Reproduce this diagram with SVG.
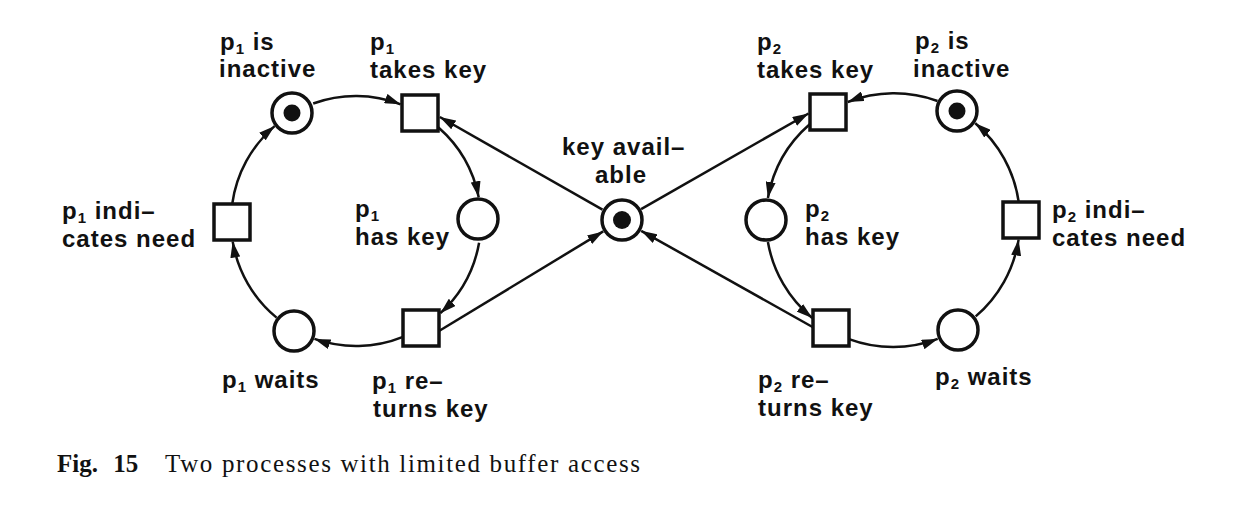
<svg xmlns="http://www.w3.org/2000/svg" width="1235" height="515" viewBox="0 0 1235 515">
<style>
.place{fill:#fff;stroke:#111;stroke-width:3.5}
.trans{fill:#fff;stroke:#111;stroke-width:3.5}
.token{fill:#111}
.arc{fill:none;stroke:#111;stroke-width:2.5;marker-end:url(#arr)}
.lbl{font-family:"Liberation Sans",Arial,sans-serif;font-weight:bold;font-size:24px;letter-spacing:1px;fill:#111}
.sub{font-size:15px}
.cap{font-family:"Liberation Serif","Times New Roman",serif;font-size:25px;fill:#111}
</style>
<defs>
<marker id="arr" markerUnits="userSpaceOnUse" markerWidth="17" markerHeight="10" refX="16" refY="5" orient="auto">
<path d="M0,0 L16,5 L0,10 z" fill="#111"/>
</marker>
</defs>
<rect width="1235" height="515" fill="#fff"/>
<g id="connectors">
<path class="arc" d="M313.2,103.5 A125,125 0 0 1 400.6,104.3"/>
<path class="arc" d="M438.5,127.5 A125,125 0 0 1 478.7,197.2"/>
<path class="arc" d="M479.1,242.7 A125,125 0 0 1 440.4,313.2"/>
<path class="arc" d="M403,336.8 A125,125 0 0 1 314.5,338.9"/>
<path class="arc" d="M276.6,317.6 A125,125 0 0 1 232.7,241.6"/>
<path class="arc" d="M232.2,204 A125,125 0 0 1 274.6,126.1"/>
<path class="arc" d="M937.5,101 A127,127 0 0 0 847.8,102"/>
<path class="arc" d="M809.7,124.2 A127,127 0 0 0 767.9,198"/>
<path class="arc" d="M767.9,242 A127,127 0 0 0 812.2,318"/>
<path class="arc" d="M849,339.1 A127,127 0 0 0 937.7,338.9"/>
<path class="arc" d="M975.7,316.4 A127,127 0 0 0 1018.6,239.6"/>
<path class="arc" d="M1018.7,202 A127,127 0 0 0 975.3,123.3"/>
<path class="arc" d="M602.5,209.7 L439.8,117"/>
<path class="arc" d="M439,331 L603.2,231.4"/>
<path class="arc" d="M641.1,209.1 L808.5,113.5"/>
<path class="arc" d="M812.5,327 L641.2,230.8"/>
</g>
<g id="p1-inactive"><circle class="place" cx="292" cy="113" r="20"/><circle class="token" cx="292" cy="113" r="8.5"/>
<text class="lbl" x="220" y="50">p<tspan class="sub" dy="4">1</tspan><tspan dy="-4"> is</tspan></text><text class="lbl" x="219" y="77">inactive</text></g>
<g id="p1-takes-key"><rect class="trans" x="402" y="95" width="36" height="36"/>
<text class="lbl" x="370" y="50">p<tspan class="sub" dy="4">1</tspan></text><text class="lbl" x="370" y="78">takes key</text></g>
<g id="p1-has-key"><circle class="place" cx="478" cy="219" r="20"/>
<text class="lbl" x="355" y="217">p<tspan class="sub" dy="4">1</tspan></text><text class="lbl" x="355" y="245">has key</text></g>
<g id="p1-returns-key"><rect class="trans" x="403" y="310" width="36" height="36"/>
<text class="lbl" x="372" y="389">p<tspan class="sub" dy="4">1</tspan><tspan dy="-4"> re–</tspan></text><text class="lbl" x="373" y="417">turns key</text></g>
<g id="p1-waits"><circle class="place" cx="294" cy="331" r="20"/>
<text class="lbl" x="222" y="388">p<tspan class="sub" dy="4">1</tspan><tspan dy="-4">  waits</tspan></text></g>
<g id="p1-indicates-need"><rect class="trans" x="214" y="204" width="36" height="36"/>
<text class="lbl" x="62" y="219">p<tspan class="sub" dy="4">1</tspan><tspan dy="-4"> indi–</tspan></text><text class="lbl" x="62" y="247">cates need</text></g>
<g id="key-available"><circle class="place" cx="622" cy="220" r="20"/><circle class="token" cx="622" cy="220" r="9"/>
<text class="lbl" x="562" y="155">key avail–</text><text class="lbl" x="595" y="183">able</text></g>
<g id="p2-takes-key"><rect class="trans" x="810" y="94" width="36" height="36"/>
<text class="lbl" x="757" y="50">p<tspan class="sub" dy="4">2</tspan></text><text class="lbl" x="757" y="78">takes key</text></g>
<g id="p2-inactive"><circle class="place" cx="957" cy="111" r="20"/><circle class="token" cx="957" cy="111" r="8.5"/>
<text class="lbl" x="915" y="49">p<tspan class="sub" dy="4">2</tspan><tspan dy="-4"> is</tspan></text><text class="lbl" x="913" y="77">inactive</text></g>
<g id="p2-has-key"><circle class="place" cx="766" cy="220" r="20"/>
<text class="lbl" x="805" y="217">p<tspan class="sub" dy="4">2</tspan></text><text class="lbl" x="805" y="245">has key</text></g>
<g id="p2-returns-key"><rect class="trans" x="813" y="310" width="36" height="36"/>
<text class="lbl" x="758" y="388">p<tspan class="sub" dy="4">2</tspan><tspan dy="-4"> re–</tspan></text><text class="lbl" x="758" y="416">turns key</text></g>
<g id="p2-waits"><circle class="place" cx="958" cy="330" r="20"/>
<text class="lbl" x="935" y="385">p<tspan class="sub" dy="4">2</tspan><tspan dy="-4"> waits</tspan></text></g>
<g id="p2-indicates-need"><rect class="trans" x="1003" y="202" width="36" height="36"/>
<text class="lbl" x="1052" y="218">p<tspan class="sub" dy="4">2</tspan><tspan dy="-4"> indi–</tspan></text><text class="lbl" x="1052" y="246">cates need</text></g>
<g id="caption">
<text class="cap" x="57" y="472" font-weight="bold" word-spacing="9">Fig. 15</text>
<text class="cap" x="165" y="472" textLength="475" lengthAdjust="spacing">Two processes with limited buffer access</text>
</g>
</svg>
